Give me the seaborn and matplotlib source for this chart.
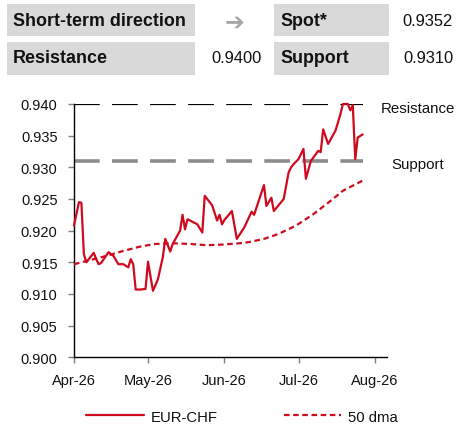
import matplotlib
matplotlib.use("Agg")
import matplotlib.pyplot as plt
import seaborn as sns
import pandas as pd
from matplotlib.patches import Rectangle

# ---------------- data ----------------
spot_dates = ["2026-04-01", "2026-04-03", "2026-04-04", "2026-04-05", "2026-04-06", "2026-04-07",
              "2026-04-09", "2026-04-10", "2026-04-11", "2026-04-12", "2026-04-15", "2026-04-17",
              "2026-04-19", "2026-04-21", "2026-04-23", "2026-04-24", "2026-04-25", "2026-04-26",
              "2026-04-28", "2026-04-30", "2026-05-01", "2026-05-03", "2026-05-05", "2026-05-07",
              "2026-05-08", "2026-05-10", "2026-05-11", "2026-05-14", "2026-05-15", "2026-05-16",
              "2026-05-17", "2026-05-21", "2026-05-23", "2026-05-24", "2026-05-27", "2026-05-29",
              "2026-05-30", "2026-05-31", "2026-06-01", "2026-06-04", "2026-06-06", "2026-06-09",
              "2026-06-12", "2026-06-13", "2026-06-17", "2026-06-18", "2026-06-20", "2026-06-21",
              "2026-06-25", "2026-06-27", "2026-06-28", "2026-06-29", "2026-07-01", "2026-07-03",
              "2026-07-04", "2026-07-06", "2026-07-09", "2026-07-10", "2026-07-11", "2026-07-13",
              "2026-07-16", "2026-07-18", "2026-07-19", "2026-07-21", "2026-07-22", "2026-07-23",
              "2026-07-24", "2026-07-25", "2026-07-27"]
spot_values = [0.9208, 0.9245, 0.9244, 0.9163, 0.9150, 0.9155,
               0.9165, 0.9155, 0.9147, 0.9149, 0.9166, 0.9160,
               0.9147, 0.9147, 0.9142, 0.9155, 0.9147, 0.9107,
               0.9107, 0.9108, 0.9151, 0.9105, 0.9123, 0.9158,
               0.9187, 0.9167, 0.9179, 0.9200, 0.9225, 0.9202,
               0.9218, 0.9210, 0.9197, 0.9255, 0.9240, 0.9216,
               0.9225, 0.9210, 0.9217, 0.9231, 0.9187, 0.9205,
               0.9230, 0.9225, 0.9272, 0.9239, 0.9252, 0.9231,
               0.9250, 0.9292, 0.9300, 0.9305, 0.9313, 0.9329,
               0.9282, 0.9310, 0.9326, 0.9324, 0.9360, 0.9337,
               0.9358, 0.9384, 0.9400, 0.9400, 0.9390, 0.9398,
               0.9313, 0.9347, 0.9352]

dma_dates = ["2026-04-01", "2026-04-08", "2026-04-14", "2026-04-21", "2026-04-28", "2026-05-04",
             "2026-05-11", "2026-05-18", "2026-05-25", "2026-05-31", "2026-06-07", "2026-06-11",
             "2026-06-17", "2026-06-23", "2026-06-30", "2026-07-07", "2026-07-14", "2026-07-19",
             "2026-07-27"]
dma_values = [0.9147, 0.9154, 0.9160, 0.9168, 0.9175, 0.9179,
              0.9180, 0.9179, 0.9177, 0.9178, 0.9180, 0.9182,
              0.9187, 0.9195, 0.9208, 0.9226, 0.9247, 0.9263,
              0.9279]

resistance = 0.9400
support = 0.9310
spot = 0.9352

series_labels = ["EUR-CHF", "50 dma"]
level_labels = ["Resistance", "Support"]
table_labels = ["Short-term direction", "Spot*", "Resistance", "Support"]
direction_symbol = "\u2794"

x_tick_dates = ["2026-04-01", "2026-05-01", "2026-06-01", "2026-07-01", "2026-08-01"]
x_tick_labels = ["Apr-26", "May-26", "Jun-26", "Jul-26", "Aug-26"]
y_ticks = [0.900, 0.905, 0.910, 0.915, 0.920, 0.925, 0.930, 0.935, 0.940]
x_limits = ["2026-04-01", "2026-08-05 18:00"]

# ---------------- style ----------------
sns.set_style("white")
plt.rcParams["font.family"] = ["Liberation Sans", "DejaVu Sans"]
plt.rcParams["lines.scale_dashes"] = False

RED = "#cf0a1e"
GREY_LINE = "#8c8c8c"
BOX = "#d9d9d9"
TXT = "#111111"

W, H = 457, 439
fig = plt.figure(figsize=(W / 100, H / 100), dpi=100)
fig.patch.set_facecolor("white")


def fx(px):
    return px / W


def fy(py):
    return 1 - py / H


ax = fig.add_axes([fx(74), fy(358.3), (386.7 - 74) / W, (358.3 - 105) / H])

df_spot = pd.DataFrame({"date": pd.to_datetime(spot_dates), "value": spot_values})
df_dma = pd.DataFrame({"date": pd.to_datetime(dma_dates), "value": dma_values})

x0 = df_spot["date"].iloc[0]
x1 = df_spot["date"].iloc[-1]
ax.hlines(resistance, x0, x1, colors="black", lw=1.6, linestyles=[(0, (18.5, 8.9))], zorder=2)
ax.hlines(support, x0, x1, colors=GREY_LINE, lw=2.6, linestyles=[(0, (18.5, 8.9))], zorder=2)

sns.lineplot(data=df_spot, x="date", y="value", ax=ax, color=RED, lw=1.6,
             label=series_labels[0], clip_on=False, zorder=4)
sns.lineplot(data=df_dma, x="date", y="value", ax=ax, color=RED, lw=1.6,
             linestyle=(0, (4, 2.6)), label=series_labels[1], clip_on=False, zorder=3)

ax.set_xlim(pd.to_datetime(x_limits[0]), pd.to_datetime(x_limits[1]))
ax.set_ylim(y_ticks[0], y_ticks[-1])
ax.set_xticks(pd.to_datetime(x_tick_dates))
ax.set_xticklabels(x_tick_labels)
ax.set_yticks(y_ticks)
ax.set_yticklabels([f"{v:.3f}" for v in y_ticks])
ax.set_xlabel("")
ax.set_ylabel("")

for s in ["top", "right"]:
    ax.spines[s].set_visible(False)
for s in ["left", "bottom"]:
    ax.spines[s].set_color("black")
    ax.spines[s].set_linewidth(1.0)

ax.tick_params(axis="both", which="major", bottom=True, left=True, direction="out",
               length=4.3, width=1.0, color="#808080", labelsize=10.5, labelcolor=TXT)
ax.tick_params(axis="y", pad=7.5)
ax.tick_params(axis="x", pad=7)

# level labels to the right of the plot
ax.text(1.10, 0.9393, level_labels[0], transform=ax.get_yaxis_transform(),
        ha="center", va="center", fontsize=10.8, color=TXT, clip_on=False)
ax.text(1.10, 0.9306, level_labels[1], transform=ax.get_yaxis_transform(),
        ha="center", va="center", fontsize=10.8, color=TXT, clip_on=False)

# legend
handles, labels = ax.get_legend_handles_labels()
if ax.get_legend() is not None:
    ax.get_legend().remove()
fig.legend(handles, labels, loc="center", bbox_to_anchor=(0.53, fy(417.7)), ncol=2,
           frameon=False, handlelength=3.9, handletextpad=0.45, columnspacing=4.4,
           fontsize=10.7, labelcolor=TXT)

# ---------------- header table ----------------
def box(xa, ya, xb, yb):
    fig.add_artist(Rectangle((fx(xa), fy(yb)), (xb - xa) / W, (yb - ya) / H,
                             transform=fig.transFigure, facecolor=BOX, edgecolor="none"))


box(7, 5, 195, 37)
box(274, 5, 389, 37)
box(7, 43, 195, 76)
box(274, 43, 389, 76)

fig.text(fx(13), fy(21.5), table_labels[0], ha="left", va="center", fontsize=12.9,
         fontweight="bold", color=TXT)
fig.text(fx(280), fy(21.5), table_labels[1], ha="left", va="center", fontsize=12.9,
         fontweight="bold", color=TXT)
fig.text(fx(13), fy(58.5), table_labels[2], ha="left", va="center", fontsize=12.9,
         fontweight="bold", color=TXT)
fig.text(fx(280), fy(58.5), table_labels[3], ha="left", va="center", fontsize=12.9,
         fontweight="bold", color=TXT)

fig.text(fx(235), fy(23), direction_symbol, ha="center", va="center", fontsize=17,
         color="#a6a6a6", family=["DejaVu Sans"])
fig.text(fx(453), fy(21.5), f"{spot:.4f}", ha="right", va="center", fontsize=11.9, color=TXT)
fig.text(fx(262), fy(58.5), f"{resistance:.4f}", ha="right", va="center", fontsize=11.9, color=TXT)
fig.text(fx(453), fy(58.5), f"{support:.4f}", ha="right", va="center", fontsize=11.9, color=TXT)

fig.savefig("out.png", dpi=100, facecolor="white")
